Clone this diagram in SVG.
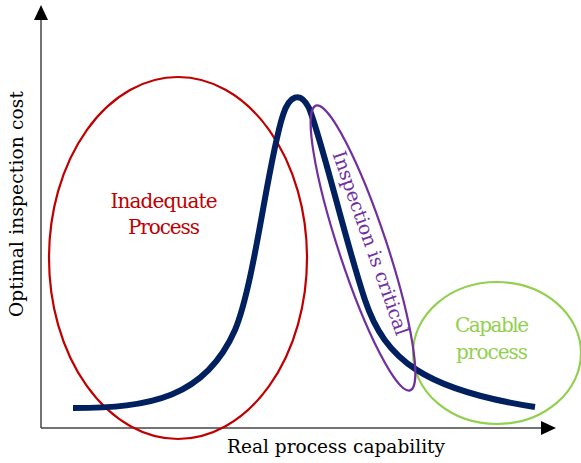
<svg xmlns="http://www.w3.org/2000/svg" width="581" height="463" viewBox="0 0 581 463">
<style>
.lbl{font-family:"DejaVu Serif","Liberation Serif",serif;font-size:20px;text-anchor:middle}
.ax{font-size:18.5px}
.crit{font-size:19px}
.ell{fill:none;stroke-width:2.2}
</style>
<rect width="581" height="463" fill="#fff"/>
<g id="axes">
<line x1="41" y1="428" x2="41" y2="20" stroke="#444" stroke-width="1.5"/>
<polygon points="34,20 48,20 41,5" fill="#000"/>
<line x1="41" y1="428" x2="541" y2="428" stroke="#444" stroke-width="1.5"/>
<polygon points="541,421 541,435 556,428" fill="#000"/>
</g>
<g id="inadequate">
<ellipse class="ell" cx="178" cy="258" rx="129" ry="181" stroke="#c00000"/>
<text class="lbl" fill="#c00000" x="164" y="208" textLength="107">Inadequate</text>
<text class="lbl" fill="#c00000" x="164" y="234" textLength="72">Process</text>
</g>
<g id="capable">
<ellipse class="ell" cx="497" cy="353" rx="84" ry="71" stroke="#92d050"/>
<text class="lbl" fill="#92d050" x="492" y="332" textLength="74">Capable</text>
<text class="lbl" fill="#92d050" x="492" y="359" textLength="72">process</text>
</g>
<g id="curve">
<path d="M73,408 C150,408 205,398 235,330 C255,282 268,160 283,115 C289,96 300,90 309,108 C322,140 345,240 365,300 C385,360 425,390 535,407" fill="none" stroke="#002060" stroke-width="6"/>
</g>
<g id="critical">
<ellipse class="ell" cx="363" cy="248" rx="150" ry="24" transform="rotate(71.7 363 248)" stroke="#7030a0"/>
<text class="lbl crit" fill="#7030a0" x="0" y="0" transform="translate(371,243) rotate(70.6)" dy="7" textLength="194">Inspection is critical</text>
</g>
<g id="axis-labels">
<text class="lbl ax" fill="#000" x="336" y="453" textLength="218">Real process capability</text>
<text class="lbl ax" fill="#000" x="0" y="0" transform="translate(23,204) rotate(-90)" textLength="226">Optimal inspection cost</text>
</g>
</svg>
